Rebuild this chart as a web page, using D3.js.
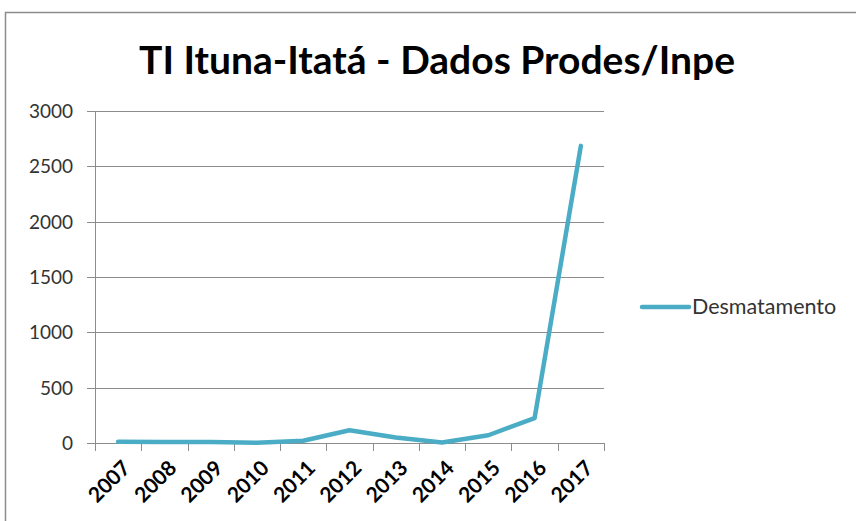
<!DOCTYPE html>
<html>
<head>
<meta charset="utf-8">
<script src="https://cdn.jsdelivr.net/npm/d3@7"></script>
<style>
  html, body { margin: 0; padding: 0; background: #fff; }
  svg { display: block; }
</style>
</head>
<body>
<svg id="chart" width="856" height="521"></svg>
<script>
const years = ["2007", "2008", "2009", "2010", "2011", "2012", "2013", "2014", "2015", "2016", "2017"];
const desmatamento = [12, 10, 8, 2, 20, 115, 50, 5, 70, 225, 2685];
const yTicks = [0, 500, 1000, 1500, 2000, 2500, 3000];

const svg = d3.select("#chart");
const font = "Lato, 'Open Sans', sans-serif";

// outer chart border (continues past the right/bottom edge)
svg.append("rect")
    .attr("x", 5.5).attr("y", 12.5)
    .attr("width", 900).attr("height", 600)
    .attr("fill", "#fff")
    .attr("stroke", "#8c8c8c")
    .attr("stroke-width", 1.5);

svg.append("text")
    .attr("x", 437).attr("y", 74)
    .attr("text-anchor", "middle")
    .attr("font-family", font)
    .attr("font-weight", "bold")
    .attr("font-size", 39)
    .attr("fill", "#000")
    .text("TI Ituna-Itatá - Dados Prodes/Inpe");

const plotLeft = 95, plotRight = 604, plotTop = 111, plotBottom = 443;

const x = d3.scaleBand().domain(years).range([plotLeft, plotRight]);
const y = d3.scaleLinear().domain([0, 3000]).range([plotBottom, plotTop]);

// horizontal gridlines with outward tick
svg.append("g")
    .selectAll("line")
    .data(yTicks)
    .join("line")
    .attr("x1", plotLeft - 8).attr("x2", plotRight)
    .attr("y1", d => Math.round(y(d)) + 0.5)
    .attr("y2", d => Math.round(y(d)) + 0.5)
    .attr("stroke", "#8c8c8c")
    .attr("stroke-width", 1);

svg.append("g")
    .selectAll("text")
    .data(yTicks)
    .join("text")
    .attr("x", 73)
    .attr("y", d => y(d) + 7)
    .attr("text-anchor", "end")
    .attr("font-family", font)
    .attr("font-size", 19)
    .attr("fill", "#333")
    .text(d => d);

// y axis line
svg.append("line")
    .attr("x1", plotLeft + 0.5).attr("x2", plotLeft + 0.5)
    .attr("y1", plotTop).attr("y2", plotBottom + 8)
    .attr("stroke", "#8c8c8c");

// x ticks at category boundaries
const bounds = years.map(d => x(d)).concat([plotRight]);
svg.append("g")
    .selectAll("line")
    .data(bounds)
    .join("line")
    .attr("x1", d => Math.round(d) + 0.5).attr("x2", d => Math.round(d) + 0.5)
    .attr("y1", plotBottom).attr("y2", plotBottom + 8)
    .attr("stroke", "#8c8c8c");

svg.append("g")
    .selectAll("text")
    .data(years)
    .join("text")
    .attr("transform", d => `translate(${x(d) + x.bandwidth() / 2 + 3},${plotBottom + 16}) rotate(-45)`)
    .attr("text-anchor", "end")
    .attr("dy", "0.7em")
    .attr("font-family", font)
    .attr("font-weight", "bold")
    .attr("font-size", 21)
    .attr("fill", "#000")
    .text(d => d);

const line = d3.line()
    .x((d, i) => x(years[i]) + x.bandwidth() / 2)
    .y(d => y(d));

svg.append("path")
    .datum(desmatamento)
    .attr("d", line)
    .attr("fill", "none")
    .attr("stroke", "#4bacc6")
    .attr("stroke-width", 4.5)
    .attr("stroke-linejoin", "round")
    .attr("stroke-linecap", "round");

// legend
svg.append("line")
    .attr("x1", 642).attr("x2", 689)
    .attr("y1", 307).attr("y2", 307)
    .attr("stroke", "#4bacc6")
    .attr("stroke-width", 4.5)
    .attr("stroke-linecap", "round");

svg.append("text")
    .attr("x", 692).attr("y", 314)
    .attr("font-family", font)
    .attr("font-size", 21.5)
    .attr("fill", "#333")
    .text("Desmatamento");
</script>
</body>
</html>
